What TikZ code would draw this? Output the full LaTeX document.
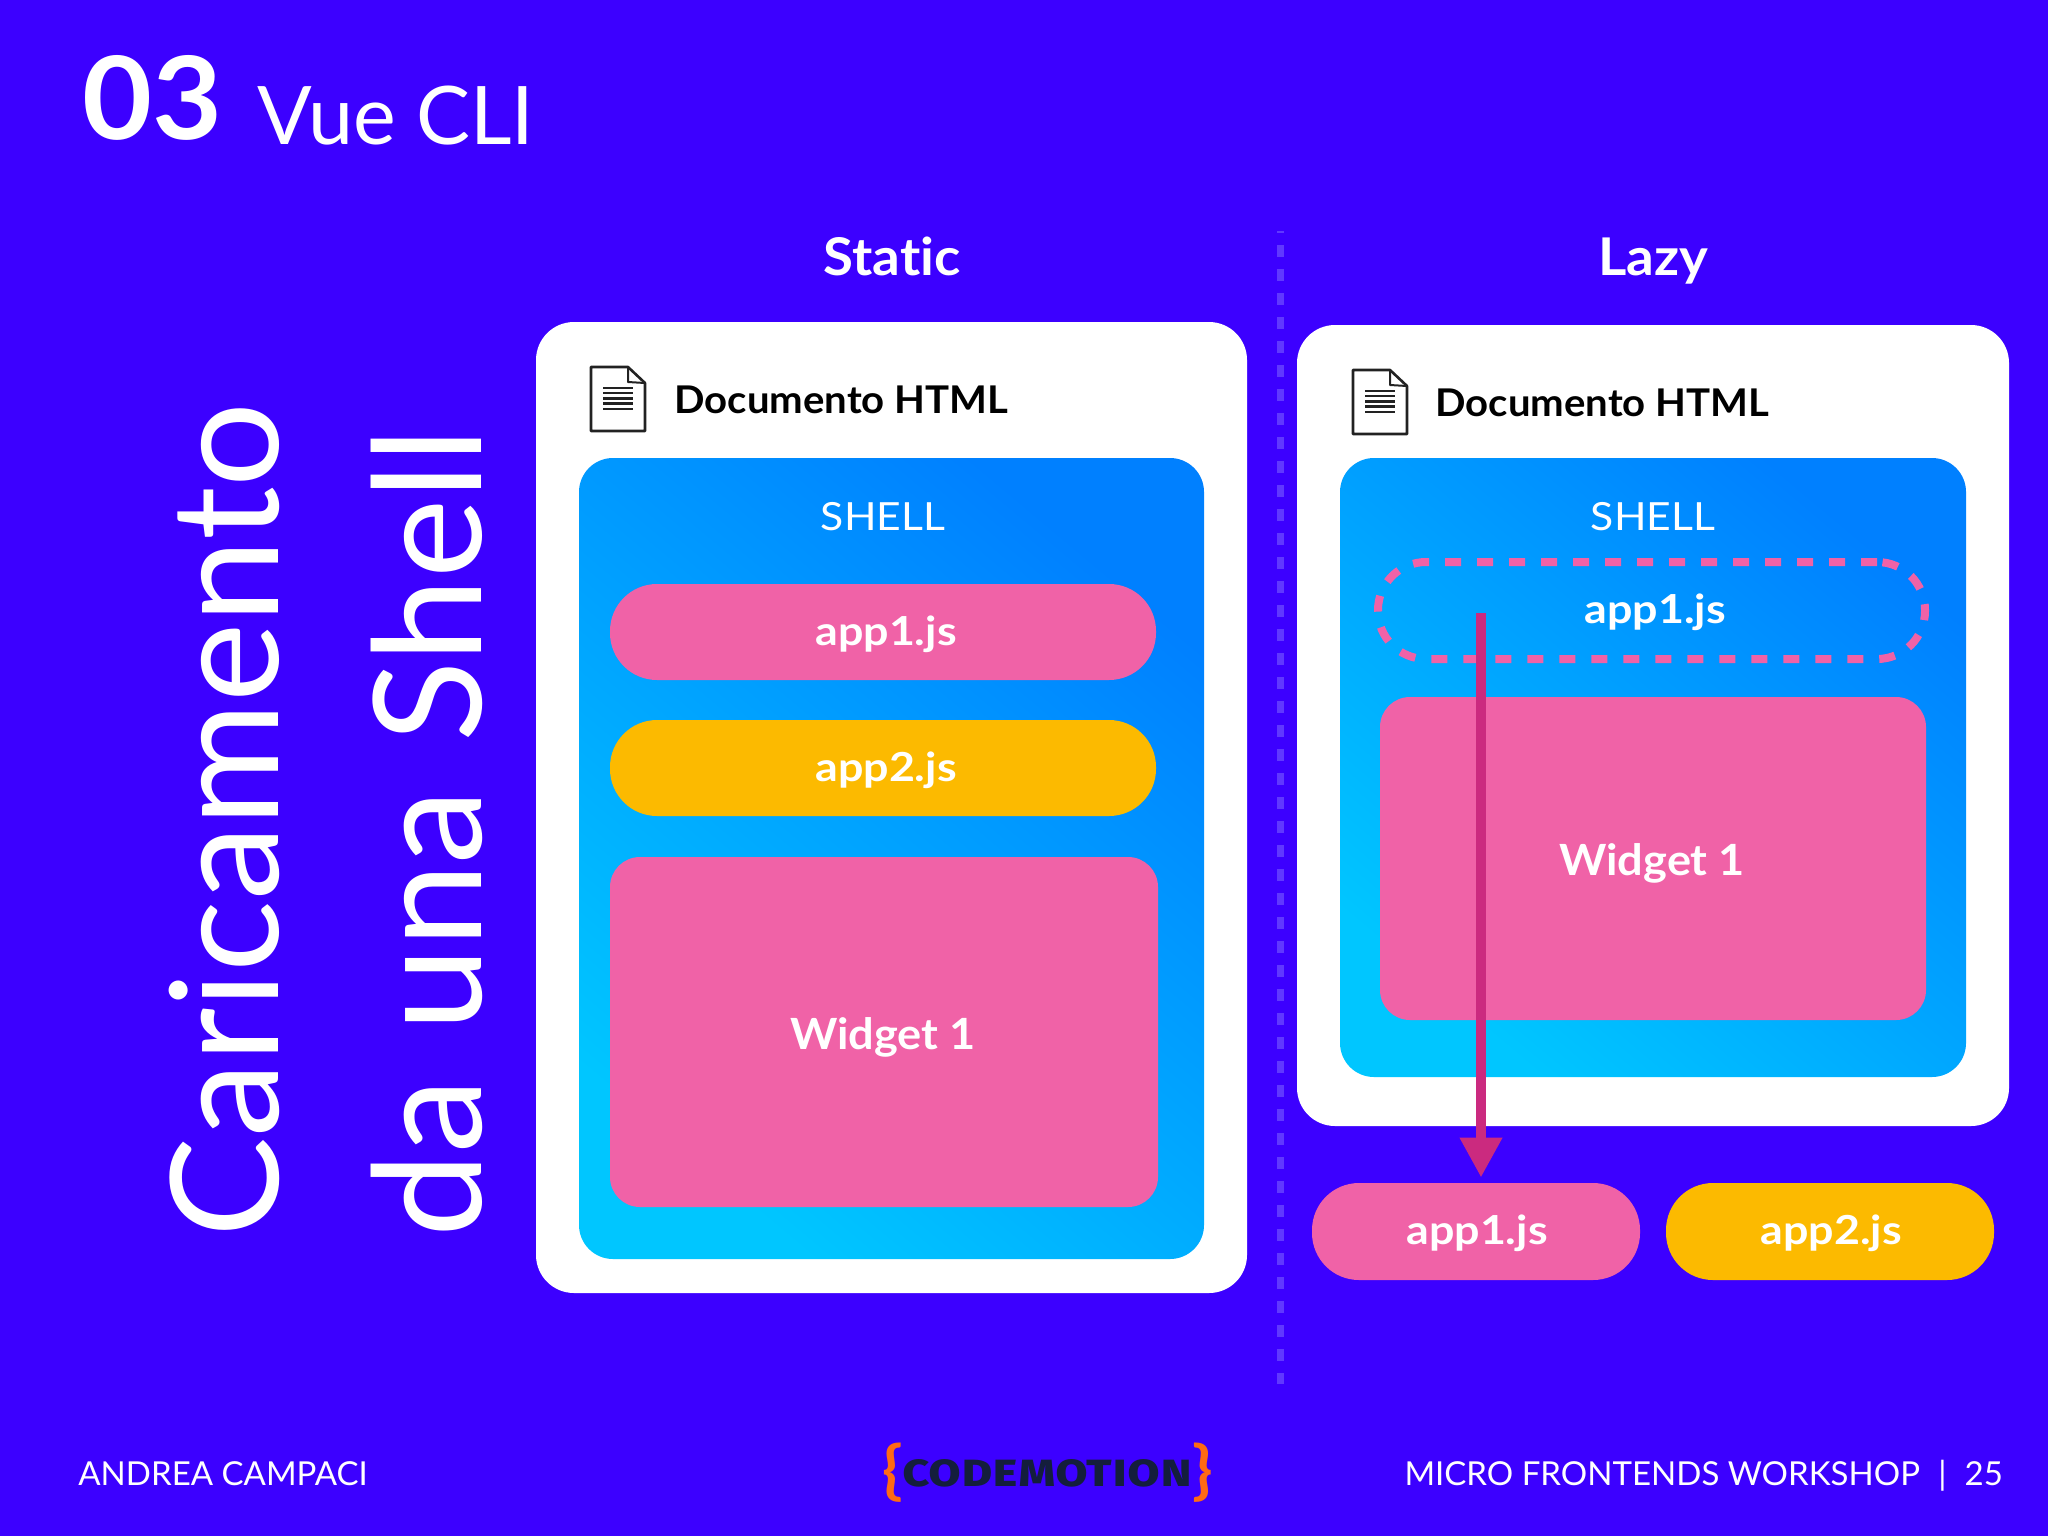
\documentclass[tikz,border=0pt]{standalone}
\usepackage{fontspec}
\usepackage{graphicx}
\setmainfont[FakeStretch=1.05,Ligatures=NoCommon]{Lato}
\newfontfamily\plainf[Ligatures=NoCommon]{Lato}
\newfontfamily\widef[FakeStretch=1.12,Ligatures=NoCommon]{Lato Bold}
\newfontfamily\shellf[FakeStretch=1.1,Ligatures=NoCommon]{Lato}
\newfontfamily\logofb[RawFeature=+smcp]{Fira Sans Bold}
\usetikzlibrary{arrows.meta}
\definecolor{bgc}{HTML}{3C00FF}
\definecolor{pinkc}{HTML}{F062A7}
\definecolor{orangec}{HTML}{FCBA00}
\definecolor{arrowc}{HTML}{CB2A7F}
\definecolor{dividerc}{HTML}{6038FF}
\definecolor{logoc}{HTML}{141E3C}
\definecolor{bracec}{HTML}{FF6A13}
\definecolor{iconc}{HTML}{222222}
\tikzset{
  panel/.style={fill=white,rounded corners=19pt},
  shellbox/.style={rounded corners=17pt,shading=axis,top color=HighB,bottom color=LowB,shading angle=-40},
  pill/.style={rounded corners=23.5pt,text=white},
  pinkpill/.style={pill,fill=pinkc},
  orangepill/.style={pill,fill=orangec},
  widget/.style={fill=pinkc,rounded corners=15pt},
  dashpill/.style={draw=pinkc,line width=4pt,dash pattern=on 8pt off 8pt,rounded corners=24pt},
  flow/.style={draw=arrowc,line width=5pt,-{Triangle[width=20pt,length=20pt,fill=arrowc]},shorten >=2.5pt},
  divider/.style={draw=dividerc,line width=3.2pt,dash pattern=on 6pt off 6pt,dash phase=5pt},
  wt/.style={text=white,inner sep=0pt,anchor=base},
  pilltext/.style={wt,font=\widef\fontsize{20}{22}\selectfont},
  shelltext/.style={wt,font=\shellf\fontsize{19.4}{22}\selectfont},
  headtext/.style={wt,font=\fontsize{26}{30}\selectfont\bfseries},
  widgettext/.style={wt,font=\fontsize{21.5}{26}\selectfont\bfseries},
  doctext/.style={inner sep=0pt,anchor=base west,text=black,font=\fontsize{19.1}{24}\selectfont\bfseries},
  foot/.style={wt,font=\plainf\fontsize{16.5}{20}\selectfont},
  bigtext/.style={wt,rotate=90,anchor=base west,font=\plainf\fontsize{75}{90}\selectfont},
  docicon/.pic={
    \draw[iconc,line width=1.3pt,line join=round] (0,0) -- (37,0) -- (54,16) -- (54,64) -- (0,64) -- cycle;
    \draw[iconc,line width=1pt,line join=round] (37,0) -- (37,15) -- (54,16);
    \foreach \yy in {21,26.2,31.4,36.6,42} \draw[iconc,line width=1.2pt] (12,\yy) -- (42,\yy);
  }
}
\definecolor{HighB}{HTML}{0080FF}
\definecolor{LowB}{HTML}{00C6FF}
\newcommand{\boxpx}[7]{\node[#1,inner sep=0pt,minimum width={(#5-#3)*0.5pt},minimum height={(#6-#4)*0.5pt}] (#2) at ({(#3+#5)/2},{(#4+#6)/2}) {#7};}
\begin{document}
\begin{tikzpicture}[x=0.5pt,y=-0.5pt]
\useasboundingbox[fill=bgc] (0,0) rectangle (2048,1536);
% title
\node[wt,anchor=base west,font=\fontsize{57.5}{66}\selectfont\bfseries] (num) at (82,140) {03};
\node[wt,anchor=base west,font=\plainf\fontsize{40.4}{48}\selectfont] (title) at (257,144) {Vue CLI};
\node[bigtext] (big1) at (278,1238) {Caricamento};
\node[bigtext] (big2) at (481,1238) {da \hspace{4.5pt}una \hspace{4.5pt}Shell};
\node[headtext] (static) at (892,275) {Static};
\node[headtext] (lazy) at (1653,275) {Lazy};
\coordinate (dtop) at (1280.5,231);
\coordinate (dbot) at (1280.5,1384);
\draw[divider] (dtop) -- (dbot);
% left column
\boxpx{panel}{leftpanel}{536}{322}{1247}{1293}{}
\pic at (591,367) {docicon};
\node[doctext] (leftdoc) at (674,413) {Documento HTML};
\boxpx{shellbox}{leftshell}{579}{458}{1204}{1259}{}
\node[shelltext] (leftshelllabel) at (883,530) {SHELL};
\boxpx{pinkpill}{lapp1}{610}{584}{1156}{680}{}
\node[pilltext] (lapp1t) at (886,645) {app1.js};
\boxpx{orangepill}{lapp2}{610}{720}{1156}{816}{}
\node[pilltext] (lapp2t) at (886,781) {app2.js};
\boxpx{widget}{lwidget}{610}{857}{1158}{1207}{}
\node[widgettext] (lwidgett) at (883,1049) {Widget 1};
% right column
\boxpx{panel}{rightpanel}{1297}{325}{2009}{1126}{}
\pic at (1353,370) {docicon};
\node[doctext] (rightdoc) at (1435,416) {Documento HTML};
\boxpx{shellbox}{rightshell}{1340}{458}{1966}{1077}{}
\node[shelltext] (rightshelllabel) at (1653,530) {SHELL};
\boxpx{dashpill}{rdash}{1378}{562}{1925}{659}{}
\node[pilltext] (rapp1t) at (1655,623) {app1.js};
\boxpx{widget}{rwidget}{1380}{697}{1926}{1020}{}
\node[widgettext] (rwidgett) at (1652,875) {Widget 1};
\boxpx{pinkpill}{bapp1}{1312}{1183}{1640}{1280}{}
\node[pilltext] (bapp1t) at (1477,1244) {app1.js};
\boxpx{orangepill}{bapp2}{1666}{1183}{1994}{1280}{}
\node[pilltext] (bapp2t) at (1831,1244) {app2.js};
\coordinate (flowstart) at (1481,613);
\draw[flow] (flowstart) -- (flowstart |- bapp1.north);
% footer
\node[foot,anchor=base west] (author) at (78,1485) {ANDREA CAMPACI};
\node[foot,anchor=base east] (talk) at (2003,1485) {MICRO FRONTENDS WORKSHOP\hspace{0.55em}|\hspace{0.55em}25};
\node[inner sep=0pt,anchor=center,text=bracec,font=\fontsize{32}{32}\selectfont\bfseries] (lb) at (893,1473) {\{};
\node[inner sep=0pt,anchor=center,text=bracec,font=\fontsize{32}{32}\selectfont\bfseries] (rb) at (1203,1473) {\}};
\node[inner sep=0pt,anchor=center,text=logoc] (logo) at (1047.5,1473.5) {\resizebox{145.5pt}{13.5pt}{\logofb codemotion}};
\end{tikzpicture}
\end{document}
